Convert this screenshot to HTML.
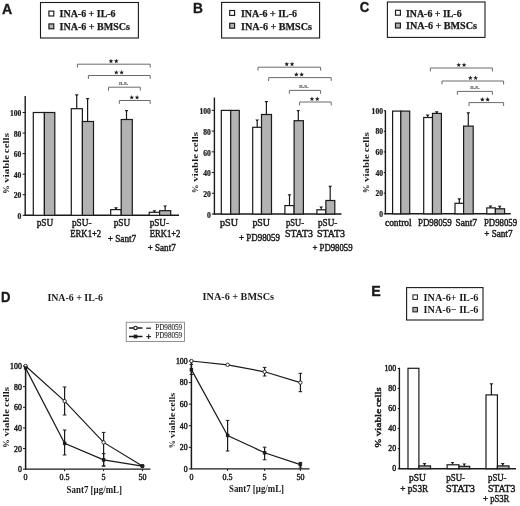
<!DOCTYPE html>
<html><head><meta charset="utf-8"><style>
html,body{margin:0;padding:0;background:#fff;}
body{width:520px;height:506px;overflow:hidden;}
svg{display:block;will-change:transform;}
</style></head><body>
<svg width="520" height="506" viewBox="0 0 520 506">
<rect width="520" height="506" fill="#fff"/>
<text x="1.9" y="13.75" font-family='"Liberation Sans", sans-serif' font-size="13.81" font-weight="bold" fill="#1a1a1a" text-anchor="start" stroke="#1a1a1a" stroke-width="0.35" textLength="10.24" lengthAdjust="spacingAndGlyphs" >A</text>
<rect x="40.5" y="2.5" width="97.9" height="35.5" fill="#fff" stroke="#1a1a1a" stroke-width="1.1"/>
<rect x="48.9" y="11.1" width="4.9" height="4.9" fill="#fff" stroke="#1a1a1a" stroke-width="1.15"/>
<rect x="48.9" y="23.9" width="4.9" height="4.9" fill="#b2b2b2" stroke="#1a1a1a" stroke-width="1.15"/>
<text x="59.6" y="16.8" font-family='"Liberation Serif", serif' font-size="9.5" font-weight="bold" fill="#1a1a1a" text-anchor="start" stroke="#1a1a1a" stroke-width="0.25" textLength="56" lengthAdjust="spacingAndGlyphs" >INA-6 + IL-6</text>
<text x="59.6" y="29.6" font-family='"Liberation Serif", serif' font-size="9.5" font-weight="bold" fill="#1a1a1a" text-anchor="start" stroke="#1a1a1a" stroke-width="0.25" textLength="70.4" lengthAdjust="spacingAndGlyphs" >INA-6 + BMSCs</text>
<line x1="25.2" y1="96.0" x2="25.2" y2="215.8" stroke="#1a1a1a" stroke-width="1.4"/>
<line x1="22.6" y1="215.3" x2="25.2" y2="215.3" stroke="#1a1a1a" stroke-width="1"/>
<text x="21.3" y="219.0" font-family='"Liberation Serif", serif' font-size="7.6" font-weight="bold" fill="#1a1a1a" text-anchor="end" stroke="#1a1a1a" stroke-width="0.22" >0</text>
<line x1="22.6" y1="194.74" x2="25.2" y2="194.74" stroke="#1a1a1a" stroke-width="1"/>
<text x="21.3" y="198.44" font-family='"Liberation Serif", serif' font-size="7.6" font-weight="bold" fill="#1a1a1a" text-anchor="end" stroke="#1a1a1a" stroke-width="0.22" >20</text>
<line x1="22.6" y1="174.18" x2="25.2" y2="174.18" stroke="#1a1a1a" stroke-width="1"/>
<text x="21.3" y="177.88" font-family='"Liberation Serif", serif' font-size="7.6" font-weight="bold" fill="#1a1a1a" text-anchor="end" stroke="#1a1a1a" stroke-width="0.22" >40</text>
<line x1="22.6" y1="153.62" x2="25.2" y2="153.62" stroke="#1a1a1a" stroke-width="1"/>
<text x="21.3" y="157.32" font-family='"Liberation Serif", serif' font-size="7.6" font-weight="bold" fill="#1a1a1a" text-anchor="end" stroke="#1a1a1a" stroke-width="0.22" >60</text>
<line x1="22.6" y1="133.06" x2="25.2" y2="133.06" stroke="#1a1a1a" stroke-width="1"/>
<text x="21.3" y="136.76" font-family='"Liberation Serif", serif' font-size="7.6" font-weight="bold" fill="#1a1a1a" text-anchor="end" stroke="#1a1a1a" stroke-width="0.22" >80</text>
<line x1="22.6" y1="112.5" x2="25.2" y2="112.5" stroke="#1a1a1a" stroke-width="1"/>
<text x="21.3" y="116.2" font-family='"Liberation Serif", serif' font-size="7.6" font-weight="bold" fill="#1a1a1a" text-anchor="end" stroke="#1a1a1a" stroke-width="0.22" >100</text>
<line x1="24.5" y1="215.3" x2="179" y2="215.3" stroke="#1a1a1a" stroke-width="1.4"/>
<rect x="33.3" y="112.5" width="11.1" height="102.8" fill="#fff" stroke="#1a1a1a" stroke-width="1.2"/>
<rect x="44.4" y="112.5" width="10.4" height="102.8" fill="#b2b2b2" stroke="#1a1a1a" stroke-width="1.2"/>
<rect x="71.3" y="108.7" width="11.1" height="106.6" fill="#fff" stroke="#1a1a1a" stroke-width="1.2"/>
<rect x="82.4" y="121.5" width="11.1" height="93.8" fill="#b2b2b2" stroke="#1a1a1a" stroke-width="1.2"/>
<line x1="76.7" y1="95.0" x2="76.7" y2="108.7" stroke="#1a1a1a" stroke-width="1.2"/>
<path d="M74.80,94.30 H78.60 L77.20,96.00 H76.20 Z" fill="#1a1a1a"/>
<line x1="87.6" y1="98.8" x2="87.6" y2="121.5" stroke="#1a1a1a" stroke-width="1.2"/>
<path d="M85.70,98.10 H89.50 L88.10,99.80 H87.10 Z" fill="#1a1a1a"/>
<rect x="110.7" y="209.6" width="10.5" height="5.7" fill="#fff" stroke="#1a1a1a" stroke-width="1.2"/>
<rect x="121.2" y="119.5" width="11.1" height="95.8" fill="#b2b2b2" stroke="#1a1a1a" stroke-width="1.2"/>
<line x1="115.95" y1="207.9" x2="115.95" y2="209.6" stroke="#1a1a1a" stroke-width="1.2"/>
<path d="M114.05,207.20 H117.85 L116.45,208.90 H115.45 Z" fill="#1a1a1a"/>
<line x1="126.5" y1="110.8" x2="126.5" y2="119.5" stroke="#1a1a1a" stroke-width="1.2"/>
<path d="M124.60,110.10 H128.40 L127.00,111.80 H126.00 Z" fill="#1a1a1a"/>
<rect x="149.2" y="212.3" width="10.4" height="3.0" fill="#fff" stroke="#1a1a1a" stroke-width="1.2"/>
<rect x="159.6" y="210.7" width="11.1" height="4.6" fill="#b2b2b2" stroke="#1a1a1a" stroke-width="1.2"/>
<line x1="154.4" y1="211.0" x2="154.4" y2="212.3" stroke="#1a1a1a" stroke-width="1.2"/>
<path d="M152.50,210.30 H156.30 L154.90,212.00 H153.90 Z" fill="#1a1a1a"/>
<line x1="165.15" y1="206.1" x2="165.15" y2="210.7" stroke="#1a1a1a" stroke-width="1.2"/>
<path d="M163.25,205.40 H167.05 L165.65,207.10 H164.65 Z" fill="#1a1a1a"/>
<path d="M77.4,67.60000000000001 V64.2 H150.2 V67.60000000000001" fill="none" stroke="#6a6a6a" stroke-width="1"/>
<polygon points="111.00,58.70 111.62,60.35 113.38,60.43 112.00,61.52 112.47,63.22 111.00,62.25 109.53,63.22 110.00,61.52 108.62,60.43 110.38,60.35" fill="#1a1a1a"/>
<polygon points="116.30,58.70 116.92,60.35 118.68,60.43 117.30,61.52 117.77,63.22 116.30,62.25 114.83,63.22 115.30,61.52 113.92,60.43 115.68,60.35" fill="#1a1a1a"/>
<path d="M88.4,78.9 V75.5 H150.2 V78.9" fill="none" stroke="#6a6a6a" stroke-width="1"/>
<polygon points="116.35,70.00 116.97,71.65 118.73,71.73 117.35,72.82 117.82,74.52 116.35,73.55 114.88,74.52 115.35,72.82 113.97,71.73 115.73,71.65" fill="#1a1a1a"/>
<polygon points="121.65,70.00 122.27,71.65 124.03,71.73 122.65,72.82 123.12,74.52 121.65,73.55 120.18,74.52 120.65,72.82 119.27,71.73 121.03,71.65" fill="#1a1a1a"/>
<path d="M108.5,90.60000000000001 V87.2 H140.3 V90.60000000000001" fill="none" stroke="#6a6a6a" stroke-width="1"/>
<text x="123.7" y="84.9" font-family='"Liberation Serif", serif' font-size="6.8" font-weight="normal" fill="#444" text-anchor="middle" stroke="#444" stroke-width="0.15" textLength="9.6" lengthAdjust="spacingAndGlyphs" >n.s.</text>
<path d="M119.3,103.9 V100.5 H150.2 V103.9" fill="none" stroke="#6a6a6a" stroke-width="1"/>
<polygon points="131.75,95.00 132.37,96.65 134.13,96.73 132.75,97.82 133.22,99.52 131.75,98.55 130.28,99.52 130.75,97.82 129.37,96.73 131.13,96.65" fill="#1a1a1a"/>
<polygon points="137.05,95.00 137.67,96.65 139.43,96.73 138.05,97.82 138.52,99.52 137.05,98.55 135.58,99.52 136.05,97.82 134.67,96.73 136.43,96.65" fill="#1a1a1a"/>
<text x="36.7" y="226.3" font-family='"Liberation Serif", serif' font-size="9.4" font-weight="normal" fill="#1a1a1a" text-anchor="start" stroke="#1a1a1a" stroke-width="0.42" textLength="16.5" lengthAdjust="spacingAndGlyphs" >pSU</text>
<text x="72" y="226.3" font-family='"Liberation Serif", serif' font-size="9.4" font-weight="normal" fill="#1a1a1a" text-anchor="start" stroke="#1a1a1a" stroke-width="0.42" textLength="19.5" lengthAdjust="spacingAndGlyphs" >pSU-</text>
<text x="70.3" y="237.2" font-family='"Liberation Serif", serif' font-size="9.4" font-weight="normal" fill="#1a1a1a" text-anchor="start" stroke="#1a1a1a" stroke-width="0.42" textLength="30.9" lengthAdjust="spacingAndGlyphs" >ERK1+2</text>
<text x="113.7" y="226.3" font-family='"Liberation Serif", serif' font-size="9.4" font-weight="normal" fill="#1a1a1a" text-anchor="start" stroke="#1a1a1a" stroke-width="0.42" textLength="16.5" lengthAdjust="spacingAndGlyphs" >pSU</text>
<text x="107.7" y="241.6" font-family='"Liberation Serif", serif' font-size="9.4" font-weight="normal" fill="#1a1a1a" text-anchor="start" stroke="#1a1a1a" stroke-width="0.42" textLength="28.5" lengthAdjust="spacingAndGlyphs" >+ Sant7</text>
<text x="149.7" y="226.3" font-family='"Liberation Serif", serif' font-size="9.4" font-weight="normal" fill="#1a1a1a" text-anchor="start" stroke="#1a1a1a" stroke-width="0.42" textLength="19.3" lengthAdjust="spacingAndGlyphs" >pSU-</text>
<text x="149.7" y="237.2" font-family='"Liberation Serif", serif' font-size="9.4" font-weight="normal" fill="#1a1a1a" text-anchor="start" stroke="#1a1a1a" stroke-width="0.42" textLength="30.7" lengthAdjust="spacingAndGlyphs" >ERK1+2</text>
<text x="147.7" y="251.2" font-family='"Liberation Serif", serif' font-size="9.4" font-weight="normal" fill="#1a1a1a" text-anchor="start" stroke="#1a1a1a" stroke-width="0.42" textLength="28.0" lengthAdjust="spacingAndGlyphs" >+ Sant7</text>
<text x="0" y="0" font-family='"Liberation Serif", serif' font-size="9.0" font-weight="bold" fill="#1a1a1a" text-anchor="start" textLength="20.07" lengthAdjust="spacingAndGlyphs" transform="translate(8.5,153.17) rotate(-90)">cells</text>
<text x="0" y="0" font-family='"Liberation Serif", serif' font-size="9.0" font-weight="bold" fill="#1a1a1a" text-anchor="start" textLength="27.68" lengthAdjust="spacingAndGlyphs" transform="translate(8.5,182.70) rotate(-90)">viable</text>
<text x="0" y="0" font-family='"Liberation Serif", serif' font-size="9.0" font-weight="bold" fill="#1a1a1a" text-anchor="start" textLength="8.73" lengthAdjust="spacingAndGlyphs" transform="translate(8.5,194.10) rotate(-90)">%</text>
<text x="192.98" y="12.75" font-family='"Liberation Sans", sans-serif' font-size="14.17" font-weight="bold" fill="#1a1a1a" text-anchor="start" stroke="#1a1a1a" stroke-width="0.35" textLength="9.9" lengthAdjust="spacingAndGlyphs" >B</text>
<rect x="221.6" y="2.4" width="98.0" height="35.6" fill="#fff" stroke="#1a1a1a" stroke-width="1.1"/>
<rect x="229.7" y="10.5" width="4.9" height="4.9" fill="#fff" stroke="#1a1a1a" stroke-width="1.15"/>
<rect x="229.7" y="23.3" width="4.9" height="4.9" fill="#b2b2b2" stroke="#1a1a1a" stroke-width="1.15"/>
<text x="241" y="16.8" font-family='"Liberation Serif", serif' font-size="9.5" font-weight="bold" fill="#1a1a1a" text-anchor="start" stroke="#1a1a1a" stroke-width="0.25" textLength="56" lengthAdjust="spacingAndGlyphs" >INA-6 + IL-6</text>
<text x="241" y="29.6" font-family='"Liberation Serif", serif' font-size="9.5" font-weight="bold" fill="#1a1a1a" text-anchor="start" stroke="#1a1a1a" stroke-width="0.25" textLength="71" lengthAdjust="spacingAndGlyphs" >INA-6 + BMSCs</text>
<line x1="214.4" y1="97.5" x2="214.4" y2="214.5" stroke="#1a1a1a" stroke-width="1.4"/>
<line x1="211.8" y1="214.0" x2="214.4" y2="214.0" stroke="#1a1a1a" stroke-width="1"/>
<text x="210.9" y="217.7" font-family='"Liberation Serif", serif' font-size="7.6" font-weight="bold" fill="#1a1a1a" text-anchor="end" stroke="#1a1a1a" stroke-width="0.22" >0</text>
<line x1="211.8" y1="193.28" x2="214.4" y2="193.28" stroke="#1a1a1a" stroke-width="1"/>
<text x="210.9" y="196.98" font-family='"Liberation Serif", serif' font-size="7.6" font-weight="bold" fill="#1a1a1a" text-anchor="end" stroke="#1a1a1a" stroke-width="0.22" >20</text>
<line x1="211.8" y1="172.56" x2="214.4" y2="172.56" stroke="#1a1a1a" stroke-width="1"/>
<text x="210.9" y="176.26" font-family='"Liberation Serif", serif' font-size="7.6" font-weight="bold" fill="#1a1a1a" text-anchor="end" stroke="#1a1a1a" stroke-width="0.22" >40</text>
<line x1="211.8" y1="151.84" x2="214.4" y2="151.84" stroke="#1a1a1a" stroke-width="1"/>
<text x="210.9" y="155.54" font-family='"Liberation Serif", serif' font-size="7.6" font-weight="bold" fill="#1a1a1a" text-anchor="end" stroke="#1a1a1a" stroke-width="0.22" >60</text>
<line x1="211.8" y1="131.12" x2="214.4" y2="131.12" stroke="#1a1a1a" stroke-width="1"/>
<text x="210.9" y="134.82" font-family='"Liberation Serif", serif' font-size="7.6" font-weight="bold" fill="#1a1a1a" text-anchor="end" stroke="#1a1a1a" stroke-width="0.22" >80</text>
<line x1="211.8" y1="110.4" x2="214.4" y2="110.4" stroke="#1a1a1a" stroke-width="1"/>
<text x="210.9" y="114.1" font-family='"Liberation Serif", serif' font-size="7.6" font-weight="bold" fill="#1a1a1a" text-anchor="end" stroke="#1a1a1a" stroke-width="0.22" >100</text>
<line x1="213.7" y1="214.0" x2="341.5" y2="214.0" stroke="#1a1a1a" stroke-width="1.4"/>
<rect x="221.3" y="110.4" width="9.4" height="103.6" fill="#fff" stroke="#1a1a1a" stroke-width="1.2"/>
<rect x="230.7" y="110.4" width="8.6" height="103.6" fill="#b2b2b2" stroke="#1a1a1a" stroke-width="1.2"/>
<rect x="252.7" y="127.3" width="8.8" height="86.7" fill="#fff" stroke="#1a1a1a" stroke-width="1.2"/>
<rect x="261.5" y="114.5" width="10.0" height="99.5" fill="#b2b2b2" stroke="#1a1a1a" stroke-width="1.2"/>
<line x1="257.2" y1="120.1" x2="257.2" y2="127.3" stroke="#1a1a1a" stroke-width="1.2"/>
<path d="M255.30,119.40 H259.10 L257.70,121.10 H256.70 Z" fill="#1a1a1a"/>
<line x1="266.4" y1="101.8" x2="266.4" y2="114.5" stroke="#1a1a1a" stroke-width="1.2"/>
<path d="M264.50,101.10 H268.30 L266.90,102.80 H265.90 Z" fill="#1a1a1a"/>
<rect x="284.9" y="205.6" width="9.2" height="8.4" fill="#fff" stroke="#1a1a1a" stroke-width="1.2"/>
<rect x="294.1" y="120.7" width="9.3" height="93.3" fill="#b2b2b2" stroke="#1a1a1a" stroke-width="1.2"/>
<line x1="289.5" y1="195.0" x2="289.5" y2="205.6" stroke="#1a1a1a" stroke-width="1.2"/>
<path d="M287.60,194.30 H291.40 L290.00,196.00 H289.00 Z" fill="#1a1a1a"/>
<line x1="298.3" y1="110.6" x2="298.3" y2="120.7" stroke="#1a1a1a" stroke-width="1.2"/>
<path d="M296.40,109.90 H300.20 L298.80,111.60 H297.80 Z" fill="#1a1a1a"/>
<rect x="316.9" y="209.8" width="9.0" height="4.2" fill="#fff" stroke="#1a1a1a" stroke-width="1.2"/>
<rect x="325.9" y="200.5" width="8.9" height="13.5" fill="#b2b2b2" stroke="#1a1a1a" stroke-width="1.2"/>
<line x1="321.2" y1="207.1" x2="321.2" y2="209.8" stroke="#1a1a1a" stroke-width="1.2"/>
<path d="M319.30,206.40 H323.10 L321.70,208.10 H320.70 Z" fill="#1a1a1a"/>
<line x1="330.2" y1="186.5" x2="330.2" y2="200.5" stroke="#1a1a1a" stroke-width="1.2"/>
<path d="M328.30,185.80 H332.10 L330.70,187.50 H329.70 Z" fill="#1a1a1a"/>
<path d="M258,70.60000000000001 V67.2 H320.6 V70.60000000000001" fill="none" stroke="#6a6a6a" stroke-width="1"/>
<polygon points="286.75,61.70 287.37,63.35 289.13,63.43 287.75,64.52 288.22,66.22 286.75,65.25 285.28,66.22 285.75,64.52 284.37,63.43 286.13,63.35" fill="#1a1a1a"/>
<polygon points="292.05,61.70 292.67,63.35 294.43,63.43 293.05,64.52 293.52,66.22 292.05,65.25 290.58,66.22 291.05,64.52 289.67,63.43 291.43,63.35" fill="#1a1a1a"/>
<path d="M268.6,81.0 V77.6 H331.2 V81.0" fill="none" stroke="#6a6a6a" stroke-width="1"/>
<polygon points="296.35,72.10 296.97,73.75 298.73,73.83 297.35,74.92 297.82,76.62 296.35,75.65 294.88,76.62 295.35,74.92 293.97,73.83 295.73,73.75" fill="#1a1a1a"/>
<polygon points="301.65,72.10 302.27,73.75 304.03,73.83 302.65,74.92 303.12,76.62 301.65,75.65 300.18,76.62 300.65,74.92 299.27,73.83 301.03,73.75" fill="#1a1a1a"/>
<path d="M289.4,93.80000000000001 V90.4 H320.6 V93.80000000000001" fill="none" stroke="#6a6a6a" stroke-width="1"/>
<text x="304" y="88.10000000000001" font-family='"Liberation Serif", serif' font-size="6.8" font-weight="normal" fill="#444" text-anchor="middle" stroke="#444" stroke-width="0.15" textLength="9.6" lengthAdjust="spacingAndGlyphs" >n.s.</text>
<path d="M299.6,105.4 V102 H331.2 V105.4" fill="none" stroke="#6a6a6a" stroke-width="1"/>
<polygon points="311.95,96.50 312.57,98.15 314.33,98.23 312.95,99.32 313.42,101.02 311.95,100.05 310.48,101.02 310.95,99.32 309.57,98.23 311.33,98.15" fill="#1a1a1a"/>
<polygon points="317.25,96.50 317.87,98.15 319.63,98.23 318.25,99.32 318.72,101.02 317.25,100.05 315.78,101.02 316.25,99.32 314.87,98.23 316.63,98.15" fill="#1a1a1a"/>
<text x="220" y="226.3" font-family='"Liberation Serif", serif' font-size="9.4" font-weight="normal" fill="#1a1a1a" text-anchor="start" stroke="#1a1a1a" stroke-width="0.42" textLength="18" lengthAdjust="spacingAndGlyphs" >pSU</text>
<text x="252.4" y="226.3" font-family='"Liberation Serif", serif' font-size="9.4" font-weight="normal" fill="#1a1a1a" text-anchor="start" stroke="#1a1a1a" stroke-width="0.42" textLength="17.6" lengthAdjust="spacingAndGlyphs" >pSU</text>
<text x="239" y="241.4" font-family='"Liberation Serif", serif' font-size="9.4" font-weight="normal" fill="#1a1a1a" text-anchor="start" stroke="#1a1a1a" stroke-width="0.42" textLength="41" lengthAdjust="spacingAndGlyphs" >+ PD98059</text>
<text x="286" y="226.3" font-family='"Liberation Serif", serif' font-size="9.4" font-weight="normal" fill="#1a1a1a" text-anchor="start" stroke="#1a1a1a" stroke-width="0.42" textLength="18" lengthAdjust="spacingAndGlyphs" >pSU-</text>
<text x="285" y="237.2" font-family='"Liberation Serif", serif' font-size="9.4" font-weight="normal" fill="#1a1a1a" text-anchor="start" stroke="#1a1a1a" stroke-width="0.42" textLength="28" lengthAdjust="spacingAndGlyphs" >STAT3</text>
<text x="318" y="226.3" font-family='"Liberation Serif", serif' font-size="9.4" font-weight="normal" fill="#1a1a1a" text-anchor="start" stroke="#1a1a1a" stroke-width="0.42" textLength="19.4" lengthAdjust="spacingAndGlyphs" >pSU-</text>
<text x="317" y="237.2" font-family='"Liberation Serif", serif' font-size="9.4" font-weight="normal" fill="#1a1a1a" text-anchor="start" stroke="#1a1a1a" stroke-width="0.42" textLength="28" lengthAdjust="spacingAndGlyphs" >STAT3</text>
<text x="312.4" y="251.3" font-family='"Liberation Serif", serif' font-size="9.4" font-weight="normal" fill="#1a1a1a" text-anchor="start" stroke="#1a1a1a" stroke-width="0.42" textLength="40.2" lengthAdjust="spacingAndGlyphs" >+ PD98059</text>
<text x="0" y="0" font-family='"Liberation Serif", serif' font-size="9.0" font-weight="bold" fill="#1a1a1a" text-anchor="start" textLength="20.19" lengthAdjust="spacingAndGlyphs" transform="translate(198,152.09) rotate(-90)">cells</text>
<text x="0" y="0" font-family='"Liberation Serif", serif' font-size="9.0" font-weight="bold" fill="#1a1a1a" text-anchor="start" textLength="27.85" lengthAdjust="spacingAndGlyphs" transform="translate(198,181.82) rotate(-90)">viable</text>
<text x="0" y="0" font-family='"Liberation Serif", serif' font-size="9.0" font-weight="bold" fill="#1a1a1a" text-anchor="start" textLength="8.78" lengthAdjust="spacingAndGlyphs" transform="translate(198,193.30) rotate(-90)">%</text>
<text x="359.86" y="12.1" font-family='"Liberation Sans", sans-serif' font-size="14.1" font-weight="bold" fill="#1a1a1a" text-anchor="start" stroke="#1a1a1a" stroke-width="0.35" textLength="9.51" lengthAdjust="spacingAndGlyphs" >C</text>
<rect x="387.4" y="2" width="97.6" height="35.4" fill="#fff" stroke="#1a1a1a" stroke-width="1.1"/>
<rect x="395.5" y="10.3" width="4.9" height="4.9" fill="#fff" stroke="#1a1a1a" stroke-width="1.15"/>
<rect x="395.5" y="23.1" width="4.9" height="4.9" fill="#b2b2b2" stroke="#1a1a1a" stroke-width="1.15"/>
<text x="406" y="16.5" font-family='"Liberation Serif", serif' font-size="9.5" font-weight="bold" fill="#1a1a1a" text-anchor="start" stroke="#1a1a1a" stroke-width="0.25" textLength="55.6" lengthAdjust="spacingAndGlyphs" >INA-6 + IL-6</text>
<text x="406" y="29.2" font-family='"Liberation Serif", serif' font-size="9.5" font-weight="bold" fill="#1a1a1a" text-anchor="start" stroke="#1a1a1a" stroke-width="0.25" textLength="71" lengthAdjust="spacingAndGlyphs" >INA-6 + BMSCs</text>
<line x1="385.4" y1="110.4" x2="385.4" y2="214.3" stroke="#1a1a1a" stroke-width="1.4"/>
<line x1="383.8" y1="213.8" x2="385.4" y2="213.8" stroke="#1a1a1a" stroke-width="1"/>
<text x="383.0" y="216.8" font-family='"Liberation Serif", serif' font-size="7.6" font-weight="bold" fill="#1a1a1a" text-anchor="end" stroke="#1a1a1a" stroke-width="0.22" >0</text>
<line x1="383.8" y1="193.18" x2="385.4" y2="193.18" stroke="#1a1a1a" stroke-width="1"/>
<text x="383.0" y="196.18" font-family='"Liberation Serif", serif' font-size="7.6" font-weight="bold" fill="#1a1a1a" text-anchor="end" stroke="#1a1a1a" stroke-width="0.22" >20</text>
<line x1="383.8" y1="172.56" x2="385.4" y2="172.56" stroke="#1a1a1a" stroke-width="1"/>
<text x="383.0" y="175.56" font-family='"Liberation Serif", serif' font-size="7.6" font-weight="bold" fill="#1a1a1a" text-anchor="end" stroke="#1a1a1a" stroke-width="0.22" >40</text>
<line x1="383.8" y1="151.94" x2="385.4" y2="151.94" stroke="#1a1a1a" stroke-width="1"/>
<text x="383.0" y="154.94" font-family='"Liberation Serif", serif' font-size="7.6" font-weight="bold" fill="#1a1a1a" text-anchor="end" stroke="#1a1a1a" stroke-width="0.22" >60</text>
<line x1="383.8" y1="131.32" x2="385.4" y2="131.32" stroke="#1a1a1a" stroke-width="1"/>
<text x="383.0" y="134.32" font-family='"Liberation Serif", serif' font-size="7.6" font-weight="bold" fill="#1a1a1a" text-anchor="end" stroke="#1a1a1a" stroke-width="0.22" >80</text>
<line x1="383.8" y1="110.7" x2="385.4" y2="110.7" stroke="#1a1a1a" stroke-width="1"/>
<text x="383.0" y="113.7" font-family='"Liberation Serif", serif' font-size="7.6" font-weight="bold" fill="#1a1a1a" text-anchor="end" stroke="#1a1a1a" stroke-width="0.22" >100</text>
<line x1="384.7" y1="213.8" x2="510.8" y2="213.8" stroke="#1a1a1a" stroke-width="1.4"/>
<rect x="392.6" y="111.1" width="8.2" height="102.7" fill="#fff" stroke="#1a1a1a" stroke-width="1.2"/>
<rect x="400.8" y="111.1" width="8.9" height="102.7" fill="#b2b2b2" stroke="#1a1a1a" stroke-width="1.2"/>
<rect x="423.7" y="117.5" width="8.8" height="96.3" fill="#fff" stroke="#1a1a1a" stroke-width="1.2"/>
<rect x="432.5" y="113.4" width="8.9" height="100.4" fill="#b2b2b2" stroke="#1a1a1a" stroke-width="1.2"/>
<line x1="427.6" y1="115.2" x2="427.6" y2="117.5" stroke="#1a1a1a" stroke-width="1.2"/>
<path d="M425.70,114.50 H429.50 L428.10,116.20 H427.10 Z" fill="#1a1a1a"/>
<line x1="436.7" y1="112.0" x2="436.7" y2="113.4" stroke="#1a1a1a" stroke-width="1.2"/>
<path d="M434.80,111.30 H438.60 L437.20,113.00 H436.20 Z" fill="#1a1a1a"/>
<rect x="455.0" y="203.3" width="8.6" height="10.5" fill="#fff" stroke="#1a1a1a" stroke-width="1.2"/>
<rect x="463.6" y="126.1" width="9.6" height="87.7" fill="#b2b2b2" stroke="#1a1a1a" stroke-width="1.2"/>
<line x1="459.3" y1="198.9" x2="459.3" y2="203.3" stroke="#1a1a1a" stroke-width="1.2"/>
<path d="M457.40,198.20 H461.20 L459.80,199.90 H458.80 Z" fill="#1a1a1a"/>
<line x1="468.3" y1="113.0" x2="468.3" y2="126.1" stroke="#1a1a1a" stroke-width="1.2"/>
<path d="M466.40,112.30 H470.20 L468.80,114.00 H467.80 Z" fill="#1a1a1a"/>
<rect x="486.8" y="207.9" width="8.6" height="5.9" fill="#fff" stroke="#1a1a1a" stroke-width="1.2"/>
<rect x="495.4" y="208.8" width="9.2" height="5.0" fill="#b2b2b2" stroke="#1a1a1a" stroke-width="1.2"/>
<line x1="490.5" y1="206.2" x2="490.5" y2="207.9" stroke="#1a1a1a" stroke-width="1.2"/>
<path d="M488.60,205.50 H492.40 L491.00,207.20 H490.00 Z" fill="#1a1a1a"/>
<line x1="499.7" y1="206.4" x2="499.7" y2="208.8" stroke="#1a1a1a" stroke-width="1.2"/>
<path d="M497.80,205.70 H501.60 L500.20,207.40 H499.20 Z" fill="#1a1a1a"/>
<path d="M430.4,71.4 V68 H492.4 V71.4" fill="none" stroke="#6a6a6a" stroke-width="1"/>
<polygon points="458.75,62.50 459.37,64.15 461.13,64.23 459.75,65.32 460.22,67.02 458.75,66.05 457.28,67.02 457.75,65.32 456.37,64.23 458.13,64.15" fill="#1a1a1a"/>
<polygon points="464.05,62.50 464.67,64.15 466.43,64.23 465.05,65.32 465.52,67.02 464.05,66.05 462.58,67.02 463.05,65.32 461.67,64.23 463.43,64.15" fill="#1a1a1a"/>
<path d="M442,84.4 V81 H503.6 V84.4" fill="none" stroke="#6a6a6a" stroke-width="1"/>
<polygon points="470.35,75.50 470.97,77.15 472.73,77.23 471.35,78.32 471.82,80.02 470.35,79.05 468.88,80.02 469.35,78.32 467.97,77.23 469.73,77.15" fill="#1a1a1a"/>
<polygon points="475.65,75.50 476.27,77.15 478.03,77.23 476.65,78.32 477.12,80.02 475.65,79.05 474.18,80.02 474.65,78.32 473.27,77.23 475.03,77.15" fill="#1a1a1a"/>
<path d="M457.4,94.80000000000001 V91.4 H492.4 V94.80000000000001" fill="none" stroke="#6a6a6a" stroke-width="1"/>
<text x="475" y="89.10000000000001" font-family='"Liberation Serif", serif' font-size="6.8" font-weight="normal" fill="#444" text-anchor="middle" stroke="#444" stroke-width="0.15" textLength="9.6" lengthAdjust="spacingAndGlyphs" >n.s.</text>
<path d="M469,106.0 V102.6 H503.6 V106.0" fill="none" stroke="#6a6a6a" stroke-width="1"/>
<polygon points="482.35,97.10 482.97,98.75 484.73,98.83 483.35,99.92 483.82,101.62 482.35,100.65 480.88,101.62 481.35,99.92 479.97,98.83 481.73,98.75" fill="#1a1a1a"/>
<polygon points="487.65,97.10 488.27,98.75 490.03,98.83 488.65,99.92 489.12,101.62 487.65,100.65 486.18,101.62 486.65,99.92 485.27,98.83 487.03,98.75" fill="#1a1a1a"/>
<text x="385" y="226.0" font-family='"Liberation Serif", serif' font-size="9.4" font-weight="normal" fill="#1a1a1a" text-anchor="start" stroke="#1a1a1a" stroke-width="0.42" textLength="26.6" lengthAdjust="spacingAndGlyphs" >control</text>
<text x="418" y="226.0" font-family='"Liberation Serif", serif' font-size="9.4" font-weight="normal" fill="#1a1a1a" text-anchor="start" stroke="#1a1a1a" stroke-width="0.42" textLength="33.6" lengthAdjust="spacingAndGlyphs" >PD98059</text>
<text x="455.6" y="226.0" font-family='"Liberation Serif", serif' font-size="9.4" font-weight="normal" fill="#1a1a1a" text-anchor="start" stroke="#1a1a1a" stroke-width="0.42" textLength="21.4" lengthAdjust="spacingAndGlyphs" >Sant7</text>
<text x="484" y="226.0" font-family='"Liberation Serif", serif' font-size="9.4" font-weight="normal" fill="#1a1a1a" text-anchor="start" stroke="#1a1a1a" stroke-width="0.42" textLength="33" lengthAdjust="spacingAndGlyphs" >PD98059</text>
<text x="484.2" y="237.3" font-family='"Liberation Serif", serif' font-size="9.4" font-weight="normal" fill="#1a1a1a" text-anchor="start" stroke="#1a1a1a" stroke-width="0.42" textLength="28.3" lengthAdjust="spacingAndGlyphs" >+ Sant7</text>
<text x="0" y="0" font-family='"Liberation Serif", serif' font-size="9.0" font-weight="bold" fill="#1a1a1a" text-anchor="start" textLength="20.07" lengthAdjust="spacingAndGlyphs" transform="translate(368.7,152.37) rotate(-90)">cells</text>
<text x="0" y="0" font-family='"Liberation Serif", serif' font-size="9.0" font-weight="bold" fill="#1a1a1a" text-anchor="start" textLength="27.68" lengthAdjust="spacingAndGlyphs" transform="translate(368.7,181.90) rotate(-90)">viable</text>
<text x="0" y="0" font-family='"Liberation Serif", serif' font-size="9.0" font-weight="bold" fill="#1a1a1a" text-anchor="start" textLength="8.73" lengthAdjust="spacingAndGlyphs" transform="translate(368.7,193.30) rotate(-90)">%</text>
<text x="1.12" y="301.9" font-family='"Liberation Sans", sans-serif' font-size="14.53" font-weight="bold" fill="#1a1a1a" text-anchor="start" stroke="#1a1a1a" stroke-width="0.35" textLength="9.44" lengthAdjust="spacingAndGlyphs" >D</text>
<text x="47.4" y="300.6" font-family='"Liberation Serif", serif' font-size="9.4" font-weight="bold" fill="#1a1a1a" text-anchor="start" textLength="55.6" lengthAdjust="spacingAndGlyphs" >INA-6 + IL-6</text>
<text x="202.6" y="300" font-family='"Liberation Serif", serif' font-size="9.4" font-weight="bold" fill="#1a1a1a" text-anchor="start" textLength="71.4" lengthAdjust="spacingAndGlyphs" >INA-6 + BMSCs</text>
<rect x="126.2" y="322.2" width="58.3" height="19.3" fill="#fff" stroke="#777" stroke-width="0.8"/>
<line x1="129" y1="328" x2="142.5" y2="328" stroke="#1a1a1a" stroke-width="1.5"/>
<circle cx="135.5" cy="328" r="1.7" fill="#fff" stroke="#1a1a1a" stroke-width="1.1"/>
<line x1="129" y1="336.5" x2="142.5" y2="336.5" stroke="#1a1a1a" stroke-width="1.5"/>
<rect x="134.1" y="335.1" width="2.8" height="2.8" fill="#1a1a1a" stroke="#1a1a1a" stroke-width="0.9"/>
<line x1="146.2" y1="328.2" x2="151" y2="328.2" stroke="#1a1a1a" stroke-width="1.2"/>
<line x1="146.3" y1="336.6" x2="151" y2="336.6" stroke="#1a1a1a" stroke-width="1.1"/>
<line x1="148.65" y1="334.2" x2="148.65" y2="339" stroke="#1a1a1a" stroke-width="1.1"/>
<text x="155.2" y="329.8" font-family='"Liberation Serif", serif' font-size="7.2" font-weight="normal" fill="#1a1a1a" text-anchor="start" stroke="#1a1a1a" stroke-width="0.1" textLength="27" lengthAdjust="spacingAndGlyphs" >PD98059</text>
<text x="155.2" y="338.2" font-family='"Liberation Serif", serif' font-size="7.2" font-weight="normal" fill="#1a1a1a" text-anchor="start" stroke="#1a1a1a" stroke-width="0.1" textLength="27" lengthAdjust="spacingAndGlyphs" >PD98059</text>
<line x1="25.6" y1="366" x2="25.6" y2="469.7" stroke="#1a1a1a" stroke-width="1.5"/>
<line x1="23.0" y1="469.2" x2="25.6" y2="469.2" stroke="#1a1a1a" stroke-width="1"/>
<text x="21.8" y="472.2" font-family='"Liberation Serif", serif' font-size="7.8" font-weight="normal" fill="#1a1a1a" text-anchor="end" stroke="#1a1a1a" stroke-width="0.44999999999999996" >0</text>
<line x1="23.0" y1="448.56" x2="25.6" y2="448.56" stroke="#1a1a1a" stroke-width="1"/>
<text x="21.8" y="451.56" font-family='"Liberation Serif", serif' font-size="7.8" font-weight="normal" fill="#1a1a1a" text-anchor="end" stroke="#1a1a1a" stroke-width="0.44999999999999996" >20</text>
<line x1="23.0" y1="427.92" x2="25.6" y2="427.92" stroke="#1a1a1a" stroke-width="1"/>
<text x="21.8" y="430.92" font-family='"Liberation Serif", serif' font-size="7.8" font-weight="normal" fill="#1a1a1a" text-anchor="end" stroke="#1a1a1a" stroke-width="0.44999999999999996" >40</text>
<line x1="23.0" y1="407.28" x2="25.6" y2="407.28" stroke="#1a1a1a" stroke-width="1"/>
<text x="21.8" y="410.28" font-family='"Liberation Serif", serif' font-size="7.8" font-weight="normal" fill="#1a1a1a" text-anchor="end" stroke="#1a1a1a" stroke-width="0.44999999999999996" >60</text>
<line x1="23.0" y1="386.64" x2="25.6" y2="386.64" stroke="#1a1a1a" stroke-width="1"/>
<text x="21.8" y="389.64" font-family='"Liberation Serif", serif' font-size="7.8" font-weight="normal" fill="#1a1a1a" text-anchor="end" stroke="#1a1a1a" stroke-width="0.44999999999999996" >80</text>
<line x1="23.0" y1="366.0" x2="25.6" y2="366.0" stroke="#1a1a1a" stroke-width="1"/>
<text x="21.8" y="369.0" font-family='"Liberation Serif", serif' font-size="7.8" font-weight="normal" fill="#1a1a1a" text-anchor="end" stroke="#1a1a1a" stroke-width="0.44999999999999996" >100</text>
<line x1="25.6" y1="469.2" x2="150.4" y2="469.2" stroke="#1a1a1a" stroke-width="1.2"/>
<line x1="64.6" y1="469.2" x2="64.6" y2="471.2" stroke="#1a1a1a" stroke-width="1"/>
<line x1="103.6" y1="469.2" x2="103.6" y2="471.2" stroke="#1a1a1a" stroke-width="1"/>
<line x1="142.4" y1="469.2" x2="142.4" y2="471.2" stroke="#1a1a1a" stroke-width="1"/>
<polyline points="25.6,366.0 64.6,401.1 103.6,442.4 142.4,466.1" fill="none" stroke="#1a1a1a" stroke-width="1.2"/>
<circle cx="25.6" cy="366.0" r="1.7" fill="#fff" stroke="#1a1a1a" stroke-width="0.9"/>
<line x1="64.6" y1="387" x2="64.6" y2="415" stroke="#1a1a1a" stroke-width="1.2"/>
<line x1="62.8" y1="387" x2="66.4" y2="387" stroke="#1a1a1a" stroke-width="1"/>
<line x1="62.8" y1="415" x2="66.4" y2="415" stroke="#1a1a1a" stroke-width="1"/>
<circle cx="64.6" cy="401.1" r="1.7" fill="#fff" stroke="#1a1a1a" stroke-width="0.9"/>
<line x1="103.6" y1="432.4" x2="103.6" y2="466" stroke="#1a1a1a" stroke-width="1.2"/>
<line x1="101.8" y1="432.4" x2="105.4" y2="432.4" stroke="#1a1a1a" stroke-width="1"/>
<line x1="101.8" y1="466" x2="105.4" y2="466" stroke="#1a1a1a" stroke-width="1"/>
<circle cx="103.6" cy="442.4" r="1.7" fill="#fff" stroke="#1a1a1a" stroke-width="0.9"/>
<circle cx="142.4" cy="466.1" r="1.7" fill="#fff" stroke="#1a1a1a" stroke-width="0.9"/>
<polyline points="25.6,368.1 64.6,443.4 103.6,459.9 142.4,466.1" fill="none" stroke="#1a1a1a" stroke-width="1.2"/>
<rect x="24.1" y="366.56" width="3" height="3" fill="#1a1a1a" stroke="#1a1a1a" stroke-width="0.4"/>
<line x1="64.6" y1="430" x2="64.6" y2="455" stroke="#1a1a1a" stroke-width="1.2"/>
<line x1="62.8" y1="430" x2="66.4" y2="430" stroke="#1a1a1a" stroke-width="1"/>
<line x1="62.8" y1="455" x2="66.4" y2="455" stroke="#1a1a1a" stroke-width="1"/>
<rect x="63.1" y="441.9" width="3" height="3" fill="#1a1a1a" stroke="#1a1a1a" stroke-width="0.4"/>
<line x1="103.6" y1="453.6" x2="103.6" y2="466" stroke="#1a1a1a" stroke-width="1.2"/>
<line x1="101.8" y1="453.6" x2="105.4" y2="453.6" stroke="#1a1a1a" stroke-width="1"/>
<line x1="101.8" y1="466" x2="105.4" y2="466" stroke="#1a1a1a" stroke-width="1"/>
<rect x="102.1" y="458.41" width="3" height="3" fill="#1a1a1a" stroke="#1a1a1a" stroke-width="0.4"/>
<rect x="140.9" y="464.6" width="3" height="3" fill="#1a1a1a" stroke="#1a1a1a" stroke-width="0.4"/>
<text x="25.6" y="479.6" font-family='"Liberation Serif", serif' font-size="8" font-weight="normal" fill="#1a1a1a" text-anchor="middle" stroke="#1a1a1a" stroke-width="0.4" >0</text>
<text x="64.6" y="479.6" font-family='"Liberation Serif", serif' font-size="8" font-weight="normal" fill="#1a1a1a" text-anchor="middle" stroke="#1a1a1a" stroke-width="0.4" >0.5</text>
<text x="103.6" y="479.6" font-family='"Liberation Serif", serif' font-size="8" font-weight="normal" fill="#1a1a1a" text-anchor="middle" stroke="#1a1a1a" stroke-width="0.4" >5</text>
<text x="142.4" y="479.6" font-family='"Liberation Serif", serif' font-size="8" font-weight="normal" fill="#1a1a1a" text-anchor="middle" stroke="#1a1a1a" stroke-width="0.4" >50</text>
<text x="66.6" y="492.6" font-family='"Liberation Serif", serif' font-size="9.6" font-weight="bold" fill="#1a1a1a" text-anchor="start" textLength="55.4" lengthAdjust="spacingAndGlyphs" >Sant7 [µg/mL]</text>
<text x="0" y="0" font-family='"Liberation Serif", serif' font-size="9.0" font-weight="bold" fill="#1a1a1a" text-anchor="start" textLength="20.07" lengthAdjust="spacingAndGlyphs" transform="translate(9.1,406.97) rotate(-90)">cells</text>
<text x="0" y="0" font-family='"Liberation Serif", serif' font-size="9.0" font-weight="bold" fill="#1a1a1a" text-anchor="start" textLength="27.68" lengthAdjust="spacingAndGlyphs" transform="translate(9.1,436.50) rotate(-90)">viable</text>
<text x="0" y="0" font-family='"Liberation Serif", serif' font-size="9.0" font-weight="bold" fill="#1a1a1a" text-anchor="start" textLength="8.73" lengthAdjust="spacingAndGlyphs" transform="translate(9.1,447.90) rotate(-90)">%</text>
<line x1="191.4" y1="361" x2="191.4" y2="469.4" stroke="#1a1a1a" stroke-width="1.5"/>
<line x1="188.8" y1="468.9" x2="191.4" y2="468.9" stroke="#1a1a1a" stroke-width="1"/>
<text x="187.6" y="471.8" font-family='"Liberation Serif", serif' font-size="7.8" font-weight="normal" fill="#1a1a1a" text-anchor="end" stroke="#1a1a1a" stroke-width="0.44999999999999996" >0</text>
<line x1="188.8" y1="447.32" x2="191.4" y2="447.32" stroke="#1a1a1a" stroke-width="1"/>
<text x="187.6" y="450.22" font-family='"Liberation Serif", serif' font-size="7.8" font-weight="normal" fill="#1a1a1a" text-anchor="end" stroke="#1a1a1a" stroke-width="0.44999999999999996" >20</text>
<line x1="188.8" y1="425.74" x2="191.4" y2="425.74" stroke="#1a1a1a" stroke-width="1"/>
<text x="187.6" y="428.64" font-family='"Liberation Serif", serif' font-size="7.8" font-weight="normal" fill="#1a1a1a" text-anchor="end" stroke="#1a1a1a" stroke-width="0.44999999999999996" >40</text>
<line x1="188.8" y1="404.16" x2="191.4" y2="404.16" stroke="#1a1a1a" stroke-width="1"/>
<text x="187.6" y="407.06" font-family='"Liberation Serif", serif' font-size="7.8" font-weight="normal" fill="#1a1a1a" text-anchor="end" stroke="#1a1a1a" stroke-width="0.44999999999999996" >60</text>
<line x1="188.8" y1="382.58" x2="191.4" y2="382.58" stroke="#1a1a1a" stroke-width="1"/>
<text x="187.6" y="385.48" font-family='"Liberation Serif", serif' font-size="7.8" font-weight="normal" fill="#1a1a1a" text-anchor="end" stroke="#1a1a1a" stroke-width="0.44999999999999996" >80</text>
<line x1="188.8" y1="361.0" x2="191.4" y2="361.0" stroke="#1a1a1a" stroke-width="1"/>
<text x="187.6" y="363.9" font-family='"Liberation Serif", serif' font-size="7.8" font-weight="normal" fill="#1a1a1a" text-anchor="end" stroke="#1a1a1a" stroke-width="0.44999999999999996" >100</text>
<line x1="191.4" y1="468.9" x2="309.5" y2="468.9" stroke="#1a1a1a" stroke-width="1.2"/>
<line x1="227.6" y1="468.9" x2="227.6" y2="470.9" stroke="#1a1a1a" stroke-width="1"/>
<line x1="264.6" y1="468.9" x2="264.6" y2="470.9" stroke="#1a1a1a" stroke-width="1"/>
<line x1="300.4" y1="468.9" x2="300.4" y2="470.9" stroke="#1a1a1a" stroke-width="1"/>
<polyline points="191.4,361.0 227.6,364.8 264.6,371.8 300.4,382.6" fill="none" stroke="#1a1a1a" stroke-width="1.2"/>
<circle cx="191.4" cy="361.0" r="1.7" fill="#fff" stroke="#1a1a1a" stroke-width="0.9"/>
<circle cx="227.6" cy="364.8" r="1.7" fill="#fff" stroke="#1a1a1a" stroke-width="0.9"/>
<line x1="264.6" y1="367.4" x2="264.6" y2="376" stroke="#1a1a1a" stroke-width="1.2"/>
<line x1="262.8" y1="367.4" x2="266.4" y2="367.4" stroke="#1a1a1a" stroke-width="1"/>
<line x1="262.8" y1="376" x2="266.4" y2="376" stroke="#1a1a1a" stroke-width="1"/>
<circle cx="264.6" cy="371.8" r="1.7" fill="#fff" stroke="#1a1a1a" stroke-width="0.9"/>
<line x1="300.4" y1="373.3" x2="300.4" y2="391.7" stroke="#1a1a1a" stroke-width="1.2"/>
<line x1="298.6" y1="373.3" x2="302.2" y2="373.3" stroke="#1a1a1a" stroke-width="1"/>
<line x1="298.6" y1="391.7" x2="302.2" y2="391.7" stroke="#1a1a1a" stroke-width="1"/>
<circle cx="300.4" cy="382.6" r="1.7" fill="#fff" stroke="#1a1a1a" stroke-width="0.9"/>
<polyline points="191.4,369.6 227.6,435.5 264.6,452.7 300.4,464.6" fill="none" stroke="#1a1a1a" stroke-width="1.2"/>
<line x1="191.4" y1="364.4" x2="191.4" y2="374.5" stroke="#1a1a1a" stroke-width="1.2"/>
<line x1="189.6" y1="364.4" x2="193.2" y2="364.4" stroke="#1a1a1a" stroke-width="1"/>
<line x1="189.6" y1="374.5" x2="193.2" y2="374.5" stroke="#1a1a1a" stroke-width="1"/>
<rect x="189.9" y="368.13" width="3" height="3" fill="#1a1a1a" stroke="#1a1a1a" stroke-width="0.4"/>
<line x1="227.6" y1="420.4" x2="227.6" y2="451" stroke="#1a1a1a" stroke-width="1.2"/>
<line x1="225.8" y1="420.4" x2="229.4" y2="420.4" stroke="#1a1a1a" stroke-width="1"/>
<line x1="225.8" y1="451" x2="229.4" y2="451" stroke="#1a1a1a" stroke-width="1"/>
<rect x="226.1" y="433.95" width="3" height="3" fill="#1a1a1a" stroke="#1a1a1a" stroke-width="0.4"/>
<line x1="264.6" y1="447.2" x2="264.6" y2="459.8" stroke="#1a1a1a" stroke-width="1.2"/>
<line x1="262.8" y1="447.2" x2="266.4" y2="447.2" stroke="#1a1a1a" stroke-width="1"/>
<line x1="262.8" y1="459.8" x2="266.4" y2="459.8" stroke="#1a1a1a" stroke-width="1"/>
<rect x="263.1" y="451.21" width="3" height="3" fill="#1a1a1a" stroke="#1a1a1a" stroke-width="0.4"/>
<line x1="300.4" y1="462.4" x2="300.4" y2="468" stroke="#1a1a1a" stroke-width="1.2"/>
<line x1="298.6" y1="462.4" x2="302.2" y2="462.4" stroke="#1a1a1a" stroke-width="1"/>
<line x1="298.6" y1="468" x2="302.2" y2="468" stroke="#1a1a1a" stroke-width="1"/>
<rect x="298.9" y="463.08" width="3" height="3" fill="#1a1a1a" stroke="#1a1a1a" stroke-width="0.4"/>
<text x="191.4" y="479.6" font-family='"Liberation Serif", serif' font-size="8" font-weight="normal" fill="#1a1a1a" text-anchor="middle" stroke="#1a1a1a" stroke-width="0.4" >0</text>
<text x="227.6" y="479.6" font-family='"Liberation Serif", serif' font-size="8" font-weight="normal" fill="#1a1a1a" text-anchor="middle" stroke="#1a1a1a" stroke-width="0.4" >0.5</text>
<text x="264.6" y="479.6" font-family='"Liberation Serif", serif' font-size="8" font-weight="normal" fill="#1a1a1a" text-anchor="middle" stroke="#1a1a1a" stroke-width="0.4" >5</text>
<text x="300.4" y="479.6" font-family='"Liberation Serif", serif' font-size="8" font-weight="normal" fill="#1a1a1a" text-anchor="middle" stroke="#1a1a1a" stroke-width="0.4" >50</text>
<text x="229" y="492" font-family='"Liberation Serif", serif' font-size="9.6" font-weight="bold" fill="#1a1a1a" text-anchor="start" textLength="55" lengthAdjust="spacingAndGlyphs" >Sant7 [µg/mL]</text>
<text x="0" y="0" font-family='"Liberation Serif", serif' font-size="8.0" font-weight="bold" fill="#1a1a1a" text-anchor="start" textLength="18.34" lengthAdjust="spacingAndGlyphs" transform="translate(174.8,411.14) rotate(-90)">cells</text>
<text x="0" y="0" font-family='"Liberation Serif", serif' font-size="8.0" font-weight="bold" fill="#1a1a1a" text-anchor="start" textLength="25.24" lengthAdjust="spacingAndGlyphs" transform="translate(174.8,437.96) rotate(-90)">viable</text>
<text x="0" y="0" font-family='"Liberation Serif", serif' font-size="8.0" font-weight="bold" fill="#1a1a1a" text-anchor="start" textLength="8.02" lengthAdjust="spacingAndGlyphs" transform="translate(174.8,448.30) rotate(-90)">%</text>
<text x="371.2" y="295.75" font-family='"Liberation Sans", sans-serif' font-size="14.53" font-weight="bold" fill="#1a1a1a" text-anchor="start" stroke="#1a1a1a" stroke-width="0.35" textLength="9.47" lengthAdjust="spacingAndGlyphs" >E</text>
<rect x="406.6" y="287.6" width="76.4" height="32.4" fill="#fff" stroke="#1a1a1a" stroke-width="1.1"/>
<rect x="412.9" y="294.9" width="4.5" height="4.5" fill="#fff" stroke="#1a1a1a" stroke-width="1"/>
<rect x="412.9" y="307.4" width="4.5" height="4.5" fill="#b2b2b2" stroke="#1a1a1a" stroke-width="1"/>
<text x="423.6" y="301" font-family='"Liberation Serif", serif' font-size="9.6" font-weight="bold" fill="#1a1a1a" text-anchor="start" textLength="54.8" lengthAdjust="spacingAndGlyphs" >INA-6+ IL-6</text>
<text x="423.6" y="313" font-family='"Liberation Serif", serif' font-size="9.6" font-weight="bold" fill="#1a1a1a" text-anchor="start" textLength="54.8" lengthAdjust="spacingAndGlyphs" >INA-6− IL-6</text>
<line x1="399.4" y1="367.7" x2="399.4" y2="469.2" stroke="#1a1a1a" stroke-width="1.4"/>
<line x1="397.8" y1="468.7" x2="399.4" y2="468.7" stroke="#1a1a1a" stroke-width="1"/>
<text x="396.1" y="471.3" font-family='"Liberation Serif", serif' font-size="7.8" font-weight="normal" fill="#1a1a1a" text-anchor="end" stroke="#1a1a1a" stroke-width="0.44999999999999996" >0</text>
<line x1="397.8" y1="448.66" x2="399.4" y2="448.66" stroke="#1a1a1a" stroke-width="1"/>
<text x="396.1" y="451.26" font-family='"Liberation Serif", serif' font-size="7.8" font-weight="normal" fill="#1a1a1a" text-anchor="end" stroke="#1a1a1a" stroke-width="0.44999999999999996" >20</text>
<line x1="397.8" y1="428.62" x2="399.4" y2="428.62" stroke="#1a1a1a" stroke-width="1"/>
<text x="396.1" y="431.22" font-family='"Liberation Serif", serif' font-size="7.8" font-weight="normal" fill="#1a1a1a" text-anchor="end" stroke="#1a1a1a" stroke-width="0.44999999999999996" >40</text>
<line x1="397.8" y1="408.58" x2="399.4" y2="408.58" stroke="#1a1a1a" stroke-width="1"/>
<text x="396.1" y="411.18" font-family='"Liberation Serif", serif' font-size="7.8" font-weight="normal" fill="#1a1a1a" text-anchor="end" stroke="#1a1a1a" stroke-width="0.44999999999999996" >60</text>
<line x1="397.8" y1="388.54" x2="399.4" y2="388.54" stroke="#1a1a1a" stroke-width="1"/>
<text x="396.1" y="391.14" font-family='"Liberation Serif", serif' font-size="7.8" font-weight="normal" fill="#1a1a1a" text-anchor="end" stroke="#1a1a1a" stroke-width="0.44999999999999996" >80</text>
<line x1="397.8" y1="368.5" x2="399.4" y2="368.5" stroke="#1a1a1a" stroke-width="1"/>
<text x="396.1" y="371.1" font-family='"Liberation Serif", serif' font-size="7.8" font-weight="normal" fill="#1a1a1a" text-anchor="end" stroke="#1a1a1a" stroke-width="0.44999999999999996" >100</text>
<line x1="398.7" y1="468.7" x2="516" y2="468.7" stroke="#1a1a1a" stroke-width="1.4"/>
<rect x="408.0" y="368.3" width="10.9" height="100.4" fill="#fff" stroke="#1a1a1a" stroke-width="1.2"/>
<rect x="418.9" y="465.9" width="11.6" height="2.8" fill="#b2b2b2" stroke="#1a1a1a" stroke-width="1.2"/>
<line x1="424.5" y1="463.7" x2="424.5" y2="465.9" stroke="#1a1a1a" stroke-width="1.2"/>
<path d="M422.60,463.00 H426.40 L425.00,464.70 H424.00 Z" fill="#1a1a1a"/>
<rect x="447.1" y="464.8" width="11.9" height="3.9" fill="#fff" stroke="#1a1a1a" stroke-width="1.2"/>
<rect x="459.0" y="466.3" width="10.7" height="2.4" fill="#b2b2b2" stroke="#1a1a1a" stroke-width="1.2"/>
<line x1="452.5" y1="462.6" x2="452.5" y2="464.8" stroke="#1a1a1a" stroke-width="1.2"/>
<path d="M450.60,461.90 H454.40 L453.00,463.60 H452.00 Z" fill="#1a1a1a"/>
<line x1="464.3" y1="464.1" x2="464.3" y2="466.3" stroke="#1a1a1a" stroke-width="1.2"/>
<path d="M462.40,463.40 H466.20 L464.80,465.10 H463.80 Z" fill="#1a1a1a"/>
<rect x="486.0" y="394.9" width="11.4" height="73.8" fill="#fff" stroke="#1a1a1a" stroke-width="1.2"/>
<rect x="497.4" y="465.9" width="11.6" height="2.8" fill="#b2b2b2" stroke="#1a1a1a" stroke-width="1.2"/>
<line x1="491.4" y1="383.9" x2="491.4" y2="394.9" stroke="#1a1a1a" stroke-width="1.2"/>
<path d="M489.50,383.20 H493.30 L491.90,384.90 H490.90 Z" fill="#1a1a1a"/>
<line x1="502.7" y1="463.7" x2="502.7" y2="465.9" stroke="#1a1a1a" stroke-width="1.2"/>
<path d="M500.80,463.00 H504.60 L503.20,464.70 H502.20 Z" fill="#1a1a1a"/>
<text x="409" y="480.7" font-family='"Liberation Serif", serif' font-size="9.4" font-weight="normal" fill="#1a1a1a" text-anchor="start" stroke="#1a1a1a" stroke-width="0.42" textLength="16.8" lengthAdjust="spacingAndGlyphs" >pSU</text>
<text x="400.3" y="492.0" font-family='"Liberation Serif", serif' font-size="9.4" font-weight="normal" fill="#1a1a1a" text-anchor="start" stroke="#1a1a1a" stroke-width="0.42" textLength="27.9" lengthAdjust="spacingAndGlyphs" >+ pS3R</text>
<text x="446.3" y="481.4" font-family='"Liberation Serif", serif' font-size="9.4" font-weight="normal" fill="#1a1a1a" text-anchor="start" stroke="#1a1a1a" stroke-width="0.42" textLength="18.7" lengthAdjust="spacingAndGlyphs" >pSU-</text>
<text x="446" y="492.0" font-family='"Liberation Serif", serif' font-size="9.4" font-weight="normal" fill="#1a1a1a" text-anchor="start" stroke="#1a1a1a" stroke-width="0.42" textLength="28.8" lengthAdjust="spacingAndGlyphs" >STAT3</text>
<text x="488" y="481.4" font-family='"Liberation Serif", serif' font-size="9.4" font-weight="normal" fill="#1a1a1a" text-anchor="start" stroke="#1a1a1a" stroke-width="0.42" textLength="18.5" lengthAdjust="spacingAndGlyphs" >pSU-</text>
<text x="487.9" y="492.0" font-family='"Liberation Serif", serif' font-size="9.4" font-weight="normal" fill="#1a1a1a" text-anchor="start" stroke="#1a1a1a" stroke-width="0.42" textLength="27.4" lengthAdjust="spacingAndGlyphs" >STAT3</text>
<text x="483.1" y="502.2" font-family='"Liberation Serif", serif' font-size="9.4" font-weight="normal" fill="#1a1a1a" text-anchor="start" stroke="#1a1a1a" stroke-width="0.42" textLength="26.3" lengthAdjust="spacingAndGlyphs" >+ pS3R</text>
<text x="0" y="0" font-family='"Liberation Serif", serif' font-size="8.6" font-weight="normal" fill="#1a1a1a" text-anchor="start" stroke="#1a1a1a" stroke-width="0.45" textLength="19.85" lengthAdjust="spacingAndGlyphs" transform="translate(380.5,407.05) rotate(-90)">cells</text>
<text x="0" y="0" font-family='"Liberation Serif", serif' font-size="8.6" font-weight="normal" fill="#1a1a1a" text-anchor="start" stroke="#1a1a1a" stroke-width="0.45" textLength="27.37" lengthAdjust="spacingAndGlyphs" transform="translate(380.5,436.23) rotate(-90)">viable</text>
<text x="0" y="0" font-family='"Liberation Serif", serif' font-size="8.6" font-weight="normal" fill="#1a1a1a" text-anchor="start" stroke="#1a1a1a" stroke-width="0.45" textLength="8.64" lengthAdjust="spacingAndGlyphs" transform="translate(380.5,447.50) rotate(-90)">%</text>
</svg>
</body></html>
